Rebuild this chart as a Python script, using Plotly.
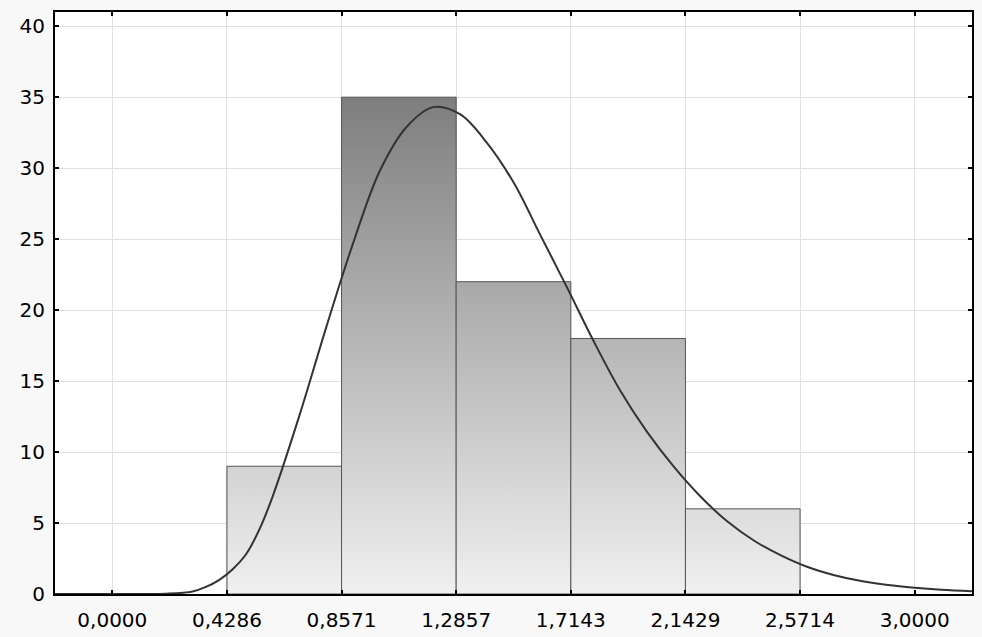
import plotly.graph_objects as go

# ---- data ----
bin_edges = [0.4286, 0.8571, 1.2857, 1.7143, 2.1429, 2.5714]
counts = [9, 35, 22, 18, 6]

curve_x = [-0.2143, 0.0, 0.1, 0.2, 0.3, 0.35, 0.4, 0.45, 0.5, 0.55, 0.6, 0.7, 0.8, 0.9,
           1.0, 1.1, 1.2, 1.3, 1.4, 1.5, 1.6, 1.7, 1.8, 1.9, 2.0, 2.1, 2.2, 2.3, 2.4,
           2.5, 2.6, 2.7, 2.8, 2.9, 3.0, 3.1, 3.2143]
curve_y = [0.0, 0.0, 0.0, 0.02, 0.18, 0.5, 1.0, 1.75, 2.8, 4.55, 6.9, 12.6, 18.8, 24.7,
           29.8, 32.9, 34.3, 33.8, 31.8, 29.0, 25.3, 21.6, 17.8, 14.3, 11.4, 8.95, 6.85, 5.1, 3.75,
           2.72, 1.9, 1.32, 0.91, 0.63, 0.44, 0.30, 0.19]

x_tick_vals = [0.0, 0.4286, 0.8571, 1.2857, 1.7143, 2.1429, 2.5714, 3.0]
x_tick_text = ["0,0000", "0,4286", "0,8571", "1,2857", "1,7143", "2,1429", "2,5714", "3,0000"]
y_tick_vals = [0, 5, 10, 15, 20, 25, 30, 35, 40]

fig = go.Figure()

gmax = max(counts)
for i, c in enumerate(counts):
    l, r = bin_edges[i], bin_edges[i + 1]
    fig.add_trace(go.Scatter(
        x=[l, l, r, r, l], y=[0, c, c, 0, 0],
        mode="lines", fill="toself",
        line=dict(color="#555555", width=1),
        fillgradient=dict(type="vertical", start=0, stop=gmax,
                          colorscale=[[0, "#f0f0f0"], [1, "#7e7e7e"]]),
        hoverinfo="skip", showlegend=False,
    ))

fig.add_trace(go.Scatter(
    x=curve_x, y=curve_y, mode="lines",
    line=dict(color="#333333", width=2, shape="spline", smoothing=1.0),
    showlegend=False,
))

axis_common = dict(
    showline=True, linecolor="black", linewidth=2, mirror="allticks",
    ticks="inside", ticklen=4, tickwidth=2, tickcolor="black",
    showgrid=True, gridcolor="#e0e0e0", gridwidth=1, zeroline=False,
    automargin=False,
    tickfont=dict(family="DejaVu Sans", size=20, color="#000000"),
)

fig.update_xaxes(range=[-0.2143, 3.2143], tickvals=x_tick_vals, ticktext=x_tick_text,
                 ticklabelstandoff=7, **axis_common)
fig.update_yaxes(range=[0, 41], tickvals=y_tick_vals, ticklabelstandoff=4, **axis_common)

fig.update_layout(
    width=982, height=637,
    margin=dict(l=55, r=10, t=12, b=43),
    paper_bgcolor="#f8f8f8", plot_bgcolor="white",
    showlegend=False,
)

fig.write_html(
    "out.html",
    config={"displayModeBar": False},
    post_script="document.body.style.margin='0';document.body.style.background='#f8f8f8';",
)
